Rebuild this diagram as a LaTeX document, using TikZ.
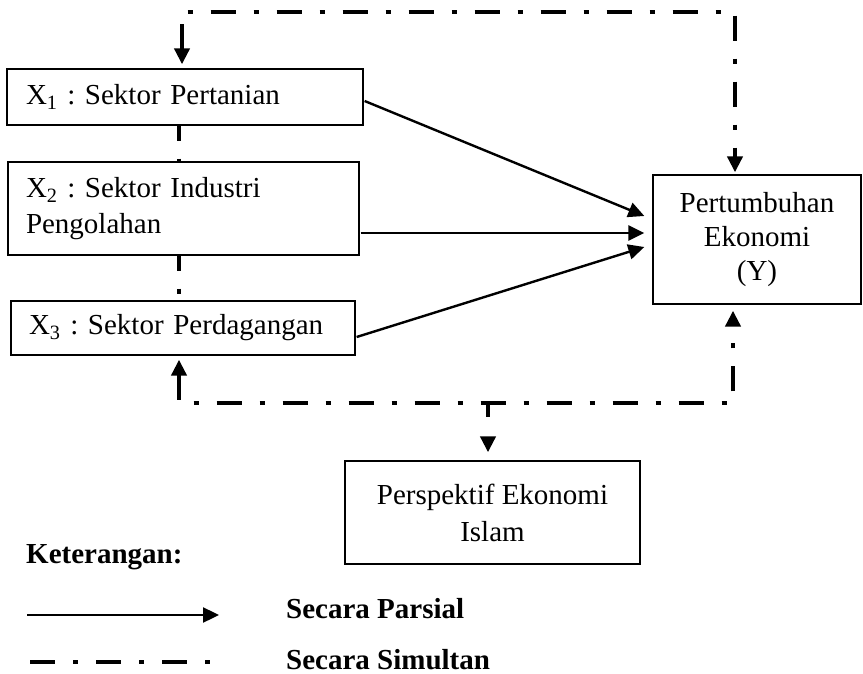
\documentclass[tikz,border=0pt]{standalone}
\usepackage{fontspec}
\setmainfont{Liberation Serif}
\usetikzlibrary{arrows.meta,calc}
\frenchspacing
\begin{document}
\begin{tikzpicture}[x=1pt,y=-1pt,
  box/.style={draw, line width=1.3pt, inner sep=0pt, font=\fontsize{29pt}{36pt}\selectfont\frenchspacing},
  part/.style={line width=2.4pt, -{Triangle[width=15pt,length=16pt]}},
  simul/.style={line width=4.5pt, dash pattern=on 25pt off 18pt on 5pt off 18pt},
  tri/.tip={Triangle[width=15pt,length=16pt]},
  leg/.style={font=\fontsize{29pt}{34pt}\selectfont\bfseries\frenchspacing, anchor=base west, inner sep=0pt}
]
\useasboundingbox (0,0) rectangle (863,674);

\node[box, minimum width=356pt, minimum height=56pt, text width=318pt, align=left] (X1) at (185,97) {X\textsubscript{1} : Sektor Pertanian};
\node[box, minimum width=351pt, minimum height=93pt, text width=315pt, align=left] (X2) at (183.5,208.5) {X\textsubscript{2} : Sektor Industri\\Pengolahan};
\node[box, minimum width=344pt, minimum height=54pt, text width=308pt, align=left] (X3) at (183,328) {X\textsubscript{3} : Sektor Perdagangan};
\node[box, minimum width=208pt, minimum height=129pt, align=center, font=\fontsize{29pt}{34pt}\selectfont] (Y) at (757,239.5) {Pertumbuhan\\Ekonomi\\(Y)};
\node[box, minimum width=295pt, minimum height=103pt, align=center, font=\fontsize{29pt}{37pt}\selectfont] (I) at (492.5,512.5) {Perspektif Ekonomi\\Islam};

% partial arrows
\draw[part] ($(X1.east)+(1,4)$) -- ($(Y.west)+(-8,-23.5)$);
\draw[part] ($(X2.east)+(1,24.5)$) -- ($(Y.west)+(-8,-6.5)$);
\draw[part] ($(X3.east)+(1,9)$) -- ($(Y.west)+(-8,7.5)$);

% simultaneous paths
\coordinate (tl) at (182,12);
\coordinate (tr) at (735,12);
\coordinate (bl) at (179,403);
\coordinate (br) at (733,403);
\coordinate (bm) at (488,403);

\draw[simul, {tri}-{tri}, shorten <=4pt, shorten >=2pt] (tl |- X1.north) -- (tl) -- (tr) -- (tr |- Y.north);
\draw[simul, {tri}-{tri}, shorten <=4pt, shorten >=6pt] (bl |- X3.south) -- (bl) -- (br) -- (br |- Y.south);
\draw[simul, -{tri}, shorten >=8pt, dash pattern=on 14pt off 20pt] (bm) -- (bm |- I.north);
\draw[simul, dash phase=10pt] (bl |- X1.south) -- (bl |- X2.north);
\draw[simul, dash phase=10pt] (bl |- X2.south) -- (bl |- X3.north);

% legend
\node[leg] (ket) at (26,563) {Keterangan:};
\coordinate (la1) at (27,615);
\coordinate (la2) at (219,615);
\draw[part] (la1) -- (la2);
\coordinate (ld1) at (30,662);
\coordinate (ld2) at (210,662);
\draw[simul] (ld1) -- (ld2);
\node[leg] (parsial) at (286,618) {Secara Parsial};
\node[leg] (simultan) at (286,669) {Secara Simultan};
\end{tikzpicture}
\end{document}
